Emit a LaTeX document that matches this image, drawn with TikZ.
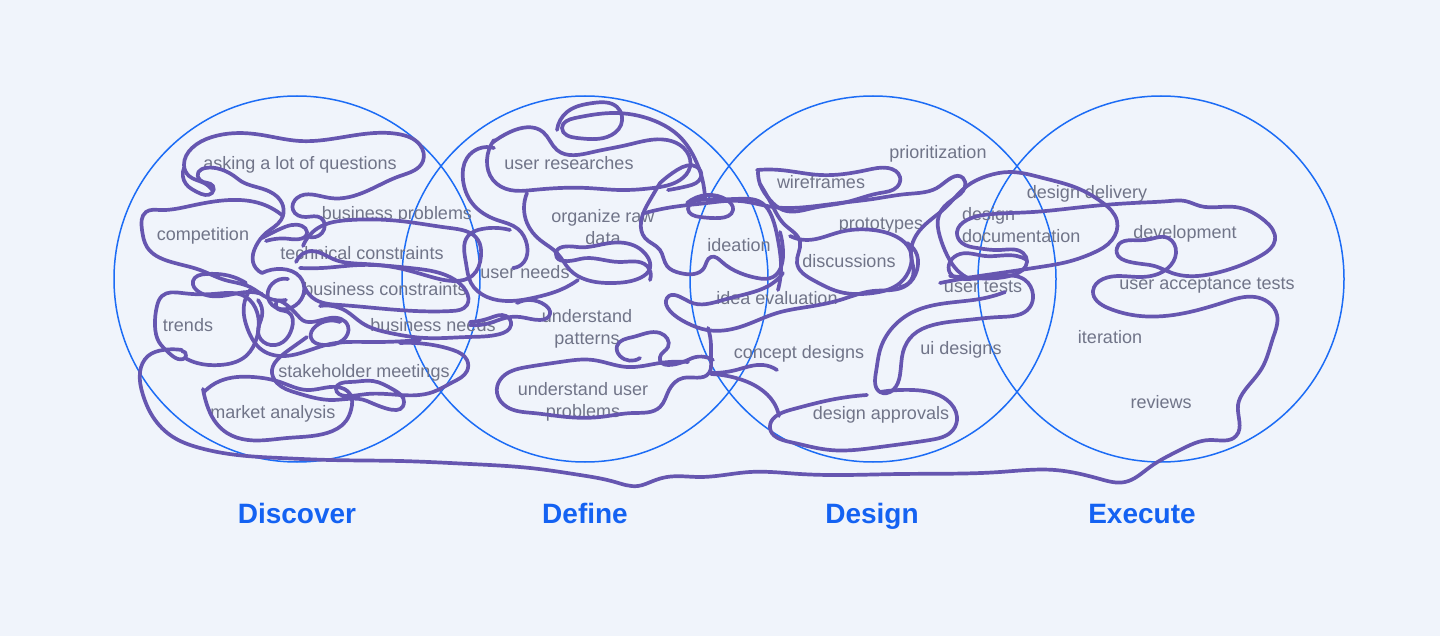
\documentclass[tikz,border=0pt]{standalone}
\usepackage{fontspec}
\setmainfont{Liberation Sans}
\usepackage{xcolor}
\usepackage{tikz}
\usetikzlibrary{hobby}

\definecolor{bgcol}{RGB}{240,244,251}
\definecolor{ringblue}{RGB}{28,108,245}
\definecolor{headblue}{RGB}{20,98,242}
\definecolor{scrib}{RGB}{102,86,176}
\definecolor{labelgray}{RGB}{112,116,136}

\begin{document}
\begin{tikzpicture}[x=1pt, y=-1pt,
    ring/.style={ringblue, line width=1.5pt},
    scrawl/.style={scrib, line width=3.7pt, line cap=round, line join=round},
    lbl/.style={labelgray, font=\fontsize{18}{22}\selectfont, inner sep=0pt,
      text height=15pt, text depth=2pt},
    lbltwo/.style={labelgray, font=\fontsize{18}{22}\selectfont, inner sep=0pt},
    phase/.style={headblue, font=\fontsize{28}{32}\selectfont\bfseries,
      anchor=base, inner sep=0pt}]
  \fill[bgcol] (0,0) rectangle (1440,636);
  %% the four phases
  \coordinate (cdiscover) at (297,279);
  \coordinate (cdefine) at (585,279);
  \coordinate (cdesign) at (873,279);
  \coordinate (cexecute) at (1161,279);
  \draw[ring] (cdiscover) circle[radius=183pt];
  \draw[ring] (cdefine) circle[radius=183pt];
  \draw[ring] (cdesign) circle[radius=183pt];
  \draw[ring] (cexecute) circle[radius=183pt];
  \node[phase] (discover) at (297,523) {Discover};
  \node[phase] (define) at (585,523) {Define};
  \node[phase] (design) at (872,523) {Design};
  \node[phase] (execute) at (1142,523) {Execute};
  %% activities, discover
  \node[lbl] (asking) at (300,163) {asking a lot of questions};
  \node[lbl] (bizprob) at (397,213) {business problems};
  \node[lbl] (competition) at (203,234) {competition};
  \node[lbl] (techcon) at (362,253) {technical constraints};
  \node[lbl] (bizcon) at (385,289) {business constraints};
  \node[lbl] (trends) at (188,325) {trends};
  \node[lbl] (bizneeds) at (433,325) {business needs};
  \node[lbl] (stakeholder) at (364,371) {stakeholder meetings};
  \node[lbl] (market) at (273,412) {market analysis};
  %% define
  \node[lbl] (userres) at (569,163) {user researches};
  \node[lbltwo, align=center] (organize) at (603,227) {organize raw\\data};
  \node[lbl] (userneeds) at (525,272) {user needs};
  \node[lbltwo, align=center] (patterns) at (587,329) {understand\\patterns};
  \node[lbltwo, align=center] (userprob) at (583,402) {understand user\\problems};
  %% design
  \node[lbl] (ideation) at (739,245) {ideation};
  \node[lbl] (ideaeval) at (777,298) {idea evaluation};
  \node[lbl] (concept) at (799,352) {concept designs};
  \node[lbl] (prior) at (938,152) {prioritization};
  \node[lbl] (wireframes) at (821,182) {wireframes};
  \node[lbl] (prototypes) at (881,223) {prototypes};
  \node[lbl] (discussions) at (849,261) {discussions};
  \node[lbltwo, align=left, anchor=west] (designdoc) at (962,225) {design\\documentation};
  \node[lbl] (usertests) at (983,286) {user tests};
  \node[lbl] (uidesigns) at (961,348) {ui designs};
  \node[lbl] (approvals) at (881,413) {design approvals};
  %% execute
  \node[lbl] (delivery) at (1087,192) {design delivery};
  \node[lbl] (development) at (1185,232) {development};
  \node[lbl] (uat) at (1207,283) {user acceptance tests};
  \node[lbl] (iteration) at (1110,337) {iteration};
  \node[lbl] (reviews) at (1161,402) {reviews};
  %% the scribble, discover
  \draw[scrawl] plot[hobby] coordinates {
    (213,191) (204,183) (189,176) (184,165) (192,148) (212,137) (255,134)
    (300,141) (350,136) (398,134) (420,145) (423,161) (400,176) (367,191)
    (330,198) (297,198) (293,210) (306,217) (321,218) (322,233) (307,236)};
  \draw[scrawl] plot[hobby] coordinates {
    (184,168) (186,184) (197,192) (212,193) (213,186) (200,180) (238,179)
    (266,190) (283,206) (281,220) (266,233) (256,246) (253,262) (262,273)};
  \draw[scrawl] plot[hobby] coordinates {
    (283,216) (262,204) (230,200) (190,206) (160,210) (146,212) (142,230)
    (147,247) (168,261) (200,270) (225,280) (250,287) (268,298) (286,300)};
  \draw[scrawl] plot[hobby] coordinates {
    (262,238) (280,229) (302,226) (307,232) (290,239) (266,241)};
  \draw[scrawl] plot[hobby] coordinates {
    (303,246) (318,228) (350,220) (400,221) (450,228) (478,240) (481,256)
    (472,276) (455,281) (428,276) (398,268) (365,264) (333,259) (312,251)
    (296,262)};
  \draw[scrawl] plot[hobby] coordinates {
    (300,268) (322,268) (360,265) (410,268) (450,277) (466,291) (467,305)
    (452,311) (415,311) (375,308) (340,305) (316,300) (305,288)};
  \draw[scrawl] plot[hobby] coordinates {
    (262,273) (282,269) (300,277) (304,292) (296,305) (280,309) (268,298)
    (272,284) (288,279)};
  \draw[scrawl] plot[hobby] coordinates {
    (258,300) (262,316) (258,332) (267,344) (283,342) (292,328) (288,312)
    (276,306) (300,318) (330,318) (348,326) (343,340) (324,345) (311,338)
    (316,326) (340,322)};
  \draw[scrawl] plot[hobby] coordinates {
    (250,290) (244,305) (248,330) (262,350) (285,356) (310,350) (330,344)
    (370,342) (420,340)};
  \draw[scrawl] plot[hobby] coordinates {
    (320,306) (346,311) (362,323) (390,333) (425,338) (468,337) (500,334)
    (511,325) (506,316) (490,318) (470,322)};
  \draw[scrawl] plot[hobby] coordinates {
    (182,351) (186,356) (178,359) (168,352) (159,342) (155,326) (157,306)
    (162,296) (182,293) (213,294) (246,297) (257,312) (257,337) (246,356)
    (220,365) (197,363) (185,358)};
  \draw[scrawl] plot[hobby] coordinates {
    (246,283) (230,276) (206,274) (193,281) (199,292) (222,296) (248,292)
    (262,294)};
  \draw[scrawl] plot[hobby] coordinates {
    (204,392) (220,381) (253,377) (280,382) (307,390) (337,387) (350,394)
    (351,410) (346,421) (327,433) (287,438) (248,440) (227,433) (214,420)
    (207,405) (203,389)};
  \draw[scrawl] plot[hobby] coordinates {
    (307,337) (293,347) (280,357) (272,370) (277,383) (297,393) (333,400)
    (367,401) (404,402) (394,390) (373,381) (350,382) (336,389) (346,396)
    (367,394) (433,392) (453,382) (467,371) (467,360) (453,350) (433,345)
    (400,343)};
  %% long stroke along the bottom into execute
  \draw[scrawl] plot[hobby] coordinates {
    (182,350) (163,350) (148,356) (140,372) (143,395) (153,417) (173,437)
    (200,448) (237,455) (280,458) (330,460) (400,461) (470,464) (530,468)
    (580,475) (615,482) (638,486) (653,481) (667,477) (700,477) (750,472)
    (800,474) (900,474) (1000,472) (1055,470) (1100,479) (1125,482)
    (1150,467) (1180,450) (1210,440) (1236,436) (1238,405) (1245,390)
    (1262,368) (1273,338) (1277,315) (1268,302) (1255,297) (1225,302)
    (1185,313) (1140,316) (1108,308) (1093,291) (1103,279) (1140,277)
    (1168,268) (1176,253) (1168,238) (1145,240) (1117,248) (1150,265)
    (1172,273) (1220,272) (1262,255) (1275,240) (1265,221) (1235,207)
    (1200,206) (1185,201) (1170,201) (1133,203) (1083,207) (1033,212)
    (993,214) (967,220) (957,232) (962,243) (977,248) (1000,250) (1023,253)
    (1027,262) (1013,275) (973,278) (950,276)};
  %% define
  \draw[scrawl] plot[hobby] coordinates {
    (492,143) (510,132) (543,132) (557,150) (593,152) (627,145) (667,140)
    (687,152) (690,167) (680,180) (653,188) (620,190) (587,188) (560,188)
    (533,190) (510,190) (493,180) (487,160) (494,140)};
  \draw[scrawl] plot[hobby] coordinates {
    (557,130) (567,112) (593,103) (617,107) (621,125) (607,137) (577,138)
    (562,128) (575,118) (612,113) (655,121) (680,137) (694,157) (702,178)
    (705,198)};
  \draw[scrawl] plot[hobby] coordinates {
    (494,148) (467,158) (463,180) (472,203) (497,220) (518,229) (527,245)
    (524,262) (513,268)};
  \draw[scrawl] plot[hobby] coordinates {
    (527,193) (527,223) (540,240) (557,253) (570,270) (587,280) (613,283)
    (640,278) (650,268) (647,256) (637,247) (610,243) (577,247) (556,254)
    (580,259) (620,262) (647,266) (650,280)};
  \draw[scrawl] plot[hobby] coordinates {
    (510,230) (482,229) (468,236) (466,263) (471,283) (487,297) (510,301)
    (537,297) (560,290) (578,280)};
  \draw[scrawl] plot[hobby] coordinates {
    (517,303) (530,300) (545,305) (550,314) (540,320) (520,317) (505,318)
    (490,323) (470,325)};
  \draw[scrawl] plot[hobby] coordinates {
    (660,183) (650,200) (641,222) (645,238) (660,250) (667,266) (680,273)
    (694,274) (704,268) (711,257) (722,262) (740,273) (757,278) (773,277)
    (781,267) (783,250) (780,232)};
  \draw[scrawl] plot[hobby] coordinates {
    (660,183) (677,170) (697,167) (701,177) (688,186) (668,190)};
  \draw[scrawl] plot[hobby] coordinates {
    (640,358) (620,356) (617,346) (633,337) (660,333) (668,347) (660,357)
    (690,359) (713,360)};
  \draw[scrawl] plot[hobby] coordinates {
    (708,328) (711,345) (711,360) (709,373) (683,378) (669,390) (660,407)
    (633,413) (600,417) (567,417) (533,413) (507,407) (497,393) (500,380)
    (527,367) (560,362) (593,360) (627,367) (660,363) (688,362)};
  \draw[scrawl] plot[hobby] coordinates {(709,373) (736,370) (763,365) (777,370)};
  \draw[scrawl] plot[hobby] coordinates {(711,374) (736,378) (759,388) (774,403) (779,416)};
  %% design
  \draw[scrawl] plot[hobby] coordinates {
    (687,203) (707,195) (727,200) (733,210) (720,218) (700,217) (688,209)
    (700,200) (735,199) (762,203) (772,217) (778,240) (781,265) (778,290)};
  \draw[scrawl] plot[hobby] coordinates {
    (783,273) (773,283) (750,293) (723,300) (690,302) (667,298) (670,311)
    (687,323) (707,330) (740,327) (777,313) (807,307) (840,300) (873,291)
    (907,285) (917,270) (917,255) (907,243)};
  \draw[scrawl] plot[hobby] coordinates {
    (757,170) (780,170) (820,175) (867,170) (888,168) (900,177) (897,187)
    (880,193) (847,202) (813,208) (783,210) (770,200) (760,184) (758,172)};
  \draw[scrawl] plot[hobby] coordinates {
    (760,184) (772,205) (785,225) (800,242) (797,263) (813,280) (840,292)
    (873,293) (900,283) (910,268) (910,250) (897,237) (873,230) (840,232)
    (807,240) (790,236)};
  \draw[scrawl] plot[hobby] coordinates {
    (645,213) (673,207) (707,203) (740,201) (773,207) (807,207) (840,203)
    (873,199) (907,194) (940,186) (963,178) (965,187) (952,200) (939,215)
    (940,237) (947,255) (957,270) (970,279)};
  \draw[scrawl] plot[hobby] coordinates {
    (900,287) (913,276) (911,255) (920,230) (945,208) (967,186) (987,176)
    (1010,172) (1043,178) (1077,188) (1103,203) (1117,221) (1112,240)
    (1093,253) (1067,262) (1040,267) (1000,273) (973,277) (940,283)};
  \draw[scrawl] plot[hobby] coordinates {
    (1027,260) (1017,256) (985,256) (960,254) (950,262) (950,273) (965,279)
    (1000,276) (1025,280) (1033,295) (1030,307) (1000,317) (967,320)
    (933,325) (913,335) (903,352) (900,375) (893,390) (880,392) (876,372)
    (880,350) (893,327) (913,312) (947,303) (985,298) (1005,292)};
  \draw[scrawl] plot[hobby] coordinates {
    (880,392) (913,390) (947,400) (957,417) (953,430) (930,440) (880,447)
    (830,450) (790,442) (770,428) (790,410) (830,400) (867,395)};
\end{tikzpicture}
\end{document}
